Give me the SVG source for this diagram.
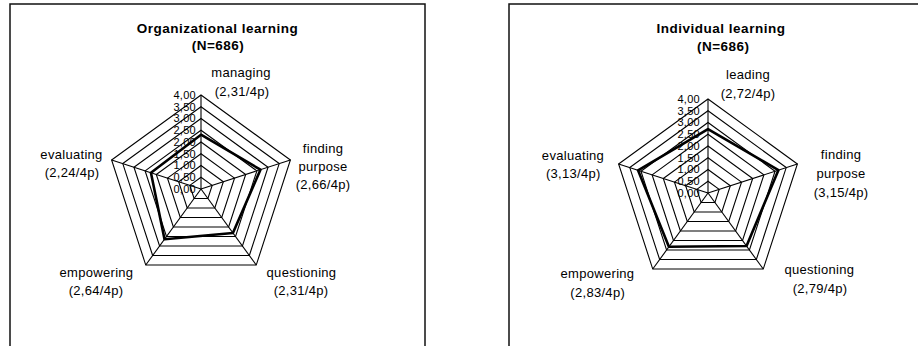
<svg xmlns="http://www.w3.org/2000/svg" xmlns:xlink="http://www.w3.org/1999/xlink" width="918" height="346" viewBox="0 0 918 346">
  <style>
    .frame { fill: none; stroke: #111; stroke-width: 1.5; }
    .grid polygon, .grid line { fill: none; stroke: #000; stroke-width: 1.1; }
    .series { fill: none; stroke: #000; stroke-width: 2.6; stroke-linejoin: round; }
    .title { font-family: "Liberation Sans", Arial, sans-serif; font-weight: bold; font-size: 13.5px; letter-spacing: 0.5px; text-anchor: middle; fill: #000; }
    .lbl { font-family: "Liberation Sans", Arial, sans-serif; font-size: 13px; letter-spacing: 0.3px; text-anchor: middle; fill: #000; }
    .tick { font-family: "Liberation Sans", Arial, sans-serif; font-size: 11px; letter-spacing: 0.3px; text-anchor: end; fill: #000; }
  </style>
  <defs>
    <!-- radar grid: 8 concentric pentagons (step 0,50 up to 4,00) and 5 spokes, centred on the origin -->
    <g id="radar-grid" class="grid">
      <polygon points="0,-11.75 11.175,-3.631 6.906,9.506 -6.906,9.506 -11.175,-3.631"/>
      <polygon points="0,-23.5 22.35,-7.262 13.813,19.012 -13.813,19.012 -22.35,-7.262"/>
      <polygon points="0,-35.25 33.525,-10.893 20.719,28.518 -20.719,28.518 -33.525,-10.893"/>
      <polygon points="0,-47 44.7,-14.524 27.626,38.024 -27.626,38.024 -44.7,-14.524"/>
      <polygon points="0,-58.75 55.875,-18.155 34.532,47.53 -34.532,47.53 -55.875,-18.155"/>
      <polygon points="0,-70.5 67.05,-21.786 41.439,57.036 -41.439,57.036 -67.05,-21.786"/>
      <polygon points="0,-82.25 78.225,-25.417 48.345,66.542 -48.345,66.542 -78.225,-25.417"/>
      <polygon points="0,-94 89.399,-29.048 55.252,76.048 -55.252,76.048 -89.399,-29.048"/>
      <line x1="0" y1="0" x2="0" y2="-94"/>
      <line x1="0" y1="0" x2="89.399" y2="-29.048"/>
      <line x1="0" y1="0" x2="55.252" y2="76.048"/>
      <line x1="0" y1="0" x2="-55.252" y2="76.048"/>
      <line x1="0" y1="0" x2="-89.399" y2="-29.048"/>
    </g>
  </defs>

  <rect width="918" height="346" fill="#fff"/>

  <!-- Organizational learning panel -->
  <g id="organizational-learning">
    <rect class="frame" x="10" y="4" width="415" height="400"/>
    <text class="title" x="217.5" y="33">Organizational learning</text>
    <text class="title" x="218" y="50">(N=686)</text>

    <g id="org-chart" transform="translate(201,189)">
      <use href="#radar-grid"/>
      <polygon class="series" points="0,-54.29 59.45,-19.32 31.91,43.92 -36.47,50.19 -50.06,-16.27"/>
      <g id="org-axis-ticks">
        <text class="tick" x="-5" y="3.8">0,00</text>
        <text class="tick" x="-5" y="-7.95">0,50</text>
        <text class="tick" x="-5" y="-19.7">1,00</text>
        <text class="tick" x="-5" y="-31.45">1,50</text>
        <text class="tick" x="-5" y="-43.2">2,00</text>
        <text class="tick" x="-5" y="-54.95">2,50</text>
        <text class="tick" x="-5" y="-66.7">3,00</text>
        <text class="tick" x="-5" y="-78.45">3,50</text>
        <text class="tick" x="-5" y="-90.2">4,00</text>
      </g>
    </g>

    <g id="org-managing">
      <text class="lbl" x="241" y="77">managing</text>
      <text class="lbl" x="242" y="95.5">(2,31/4p)</text>
    </g>
    <g id="org-finding-purpose">
      <text class="lbl" x="323" y="153">finding</text>
      <text class="lbl" x="323" y="171">purpose</text>
      <text class="lbl" x="323" y="189">(2,66/4p)</text>
    </g>
    <g id="org-questioning">
      <text class="lbl" x="301.5" y="277.3">questioning</text>
      <text class="lbl" x="301" y="295">(2,31/4p)</text>
    </g>
    <g id="org-empowering">
      <text class="lbl" x="96.5" y="276.5">empowering</text>
      <text class="lbl" x="96" y="294.5">(2,64/4p)</text>
    </g>
    <g id="org-evaluating">
      <text class="lbl" x="71.5" y="159.3">evaluating</text>
      <text class="lbl" x="72" y="177">(2,24/4p)</text>
    </g>
  </g>

  <!-- Individual learning panel -->
  <g id="individual-learning">
    <rect class="frame" x="509" y="4" width="450" height="400"/>
    <text class="title" x="721" y="33.3">Individual learning</text>
    <text class="title" x="723.3" y="50.5">(N=686)</text>

    <g id="ind-chart" transform="translate(708,193)">
      <use href="#radar-grid"/>
      <polygon class="series" points="0,-63.92 70.4,-22.87 38.54,53.04 -39.09,53.8 -69.96,-22.73"/>
      <g id="ind-axis-ticks">
        <text class="tick" x="-8" y="3.8">0,00</text>
        <text class="tick" x="-8" y="-7.95">0,50</text>
        <text class="tick" x="-8" y="-19.7">1,00</text>
        <text class="tick" x="-8" y="-31.45">1,50</text>
        <text class="tick" x="-8" y="-43.2">2,00</text>
        <text class="tick" x="-8" y="-54.95">2,50</text>
        <text class="tick" x="-8" y="-66.7">3,00</text>
        <text class="tick" x="-8" y="-78.45">3,50</text>
        <text class="tick" x="-8" y="-90.2">4,00</text>
      </g>
    </g>

    <g id="ind-leading">
      <text class="lbl" x="748" y="79">leading</text>
      <text class="lbl" x="748" y="97.5">(2,72/4p)</text>
    </g>
    <g id="ind-finding-purpose">
      <text class="lbl" x="841" y="159.3">finding</text>
      <text class="lbl" x="841" y="177.5">purpose</text>
      <text class="lbl" x="841" y="196.5">(3,15/4p)</text>
    </g>
    <g id="ind-questioning">
      <text class="lbl" x="819.3" y="274">questioning</text>
      <text class="lbl" x="820" y="292.7">(2,79/4p)</text>
    </g>
    <g id="ind-empowering">
      <text class="lbl" x="597.5" y="278.3">empowering</text>
      <text class="lbl" x="597.7" y="297">(2,83/4p)</text>
    </g>
    <g id="ind-evaluating">
      <text class="lbl" x="573" y="160">evaluating</text>
      <text class="lbl" x="573.3" y="178.3">(3,13/4p)</text>
    </g>
  </g>
</svg>
